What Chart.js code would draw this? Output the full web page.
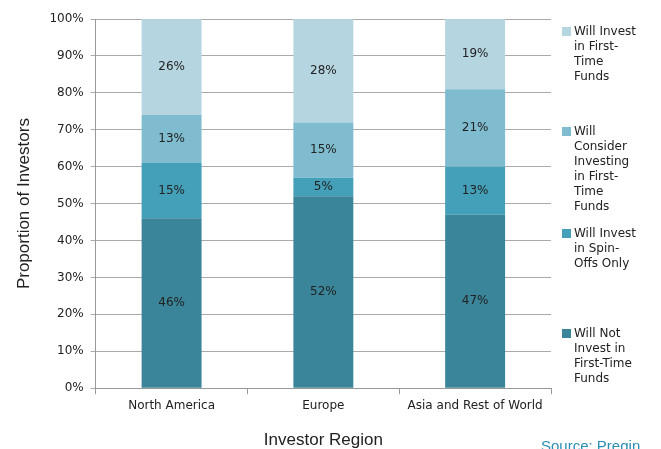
<!DOCTYPE html>
<html>
<head>
<meta charset="utf-8">
<script src="https://cdn.jsdelivr.net/npm/chart.js@4/dist/chart.umd.min.js"></script>
<style>
  body { margin: 0; background: #fff; overflow: hidden; }
  #wrap { position: relative; width: 661px; height: 449px; overflow: hidden; }
  .leg { position: absolute; left: 574px; font: 12px "DejaVu Sans", sans-serif; color: #222; line-height: 15px; width: 90px; }
  .leg span { position: absolute; left: -12px; top: 3px; width: 9px; height: 9px; }
  #source { position: absolute; left: 541px; top: 437px; font: 15px "Liberation Sans", sans-serif; color: #2a8fb5; }
</style>
</head>
<body>
<div id="wrap">
  <canvas id="chart" width="661" height="449"></canvas>
  <div class="leg" style="top:24px"><span style="background:#b5d5e0"></span>Will Invest<br>in First-<br>Time<br>Funds</div>
  <div class="leg" style="top:124px"><span style="background:#7fbcd0"></span>Will<br>Consider<br>Investing<br>in First-<br>Time<br>Funds</div>
  <div class="leg" style="top:226px"><span style="background:#44a0b8"></span>Will Invest<br>in Spin-<br>Offs Only</div>
  <div class="leg" style="top:326px"><span style="background:#3a8599"></span>Will Not<br>Invest in<br>First-Time<br>Funds</div>
  <div id="source">Source: Preqin</div>
</div>
<script>
// chart data
let regions = ['North America', 'Europe', 'Asia and Rest of World'];
let willNot = [46, 52, 47];
let spinOffs = [15, 5, 13];
let consider = [13, 15, 21];
let firstTime = [26, 28, 19];

// draw the % labels in the middle of each segment
let valueLabels = {
  id: 'valueLabels',
  afterDatasetsDraw(chart) {
    let ctx = chart.ctx;
    ctx.save();
    ctx.font = '12px "DejaVu Sans", sans-serif';
    ctx.fillStyle = '#222';
    ctx.textAlign = 'center';
    ctx.textBaseline = 'middle';
    chart.data.datasets.forEach(function(ds, i) {
      chart.getDatasetMeta(i).data.forEach(function(bar, j) {
        let mid = (bar.y + bar.base) / 2;
        ctx.fillText(ds.data[j] + '%', bar.x, mid);
      });
    });
    ctx.restore();
  }
};

var ctx = document.getElementById('chart').getContext('2d');
var chart = new Chart(ctx, {
  type: 'bar',
  data: {
    labels: regions,
    datasets: [
      { label: 'Will Not Invest in First-Time Funds', data: willNot, backgroundColor: '#3a8599' },
      { label: 'Will Invest in Spin-Offs Only', data: spinOffs, backgroundColor: '#44a0b8' },
      { label: 'Will Consider Investing in First-Time Funds', data: consider, backgroundColor: '#7fbcd0' },
      { label: 'Will Invest in First-Time Funds', data: firstTime, backgroundColor: '#b5d5e0' }
    ]
  },
  plugins: [valueLabels],
  options: {
    responsive: false,
    animation: false,
    layout: { padding: { top: 19, right: 110, left: 10, bottom: -6 } },
    datasets: { bar: { barPercentage: 0.79, categoryPercentage: 0.5 } },
    plugins: {
      legend: { display: false },
      tooltip: { enabled: false }
    },
    scales: {
      x: {
        stacked: true,
        grid: { drawOnChartArea: false, color: '#999', tickLength: 6 },
        border: { color: '#999' },
        ticks: { color: '#222', font: { family: 'DejaVu Sans', size: 12 }, padding: 4 },
        title: { display: true, text: 'Investor Region', color: '#222', font: { family: 'Liberation Sans', size: 17 }, padding: { top: 14 } }
      },
      y: {
        stacked: true,
        min: 0,
        max: 100,
        ticks: { stepSize: 10, color: '#222', font: { family: 'DejaVu Sans', size: 12 }, padding: 7, callback: function(v) { return v + '%'; } },
        grid: { color: '#aaa', tickLength: 5 },
        border: { color: '#999' },
        title: { display: true, text: 'Proportion of Investors', color: '#222', font: { family: 'Liberation Sans', size: 17 }, padding: { bottom: 8 } }
      }
    }
  }
});
</script>
</body>
</html>
